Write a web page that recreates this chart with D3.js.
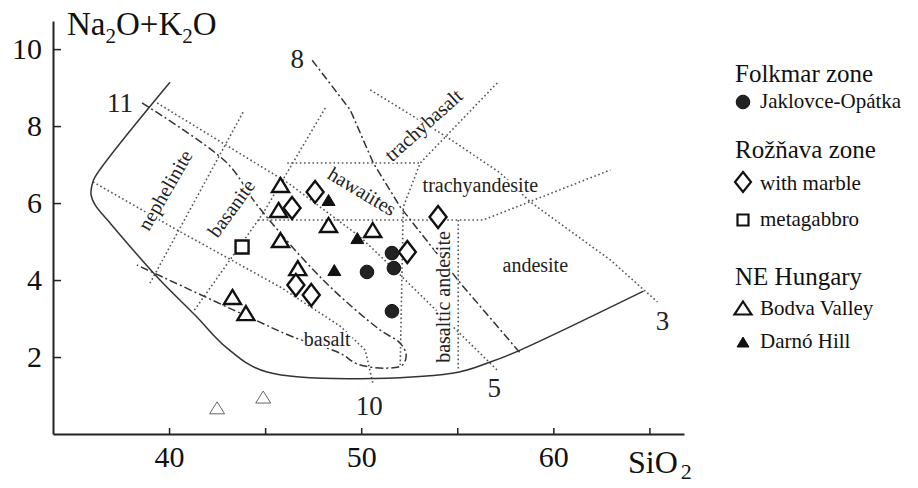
<!DOCTYPE html>
<html>
<head>
<meta charset="utf-8">
<script src="https://cdn.jsdelivr.net/npm/d3@7"></script>
<style>
  body { margin: 0; background: #fff; }
  svg { font-family: "Liberation Serif", "Times New Roman", serif; }
</style>
</head>
<body>
<svg id="tas" width="918" height="488"></svg>
<script>
// samples, each point is [SiO2, Na2O+K2O]
const jaklovce = [[51.6, 4.70], [51.7, 4.31], [50.3, 4.21], [51.6, 3.19]];
const withMarble = [[47.6, 6.29], [46.4, 5.87], [52.4, 4.73], [54.0, 5.64], [46.6, 3.87], [47.4, 3.61]];
const metagabbro = [[43.8, 4.86]];
const bodva = [[45.8, 6.47], [45.7, 5.82], [45.8, 5.04], [46.7, 4.31], [43.3, 3.56], [44.0, 3.14], [48.3, 5.43], [50.6, 5.30]];
const bodvaLow = [[42.5, 0.68], [44.9, 0.96]]; // two faint ones below the field
const darno = [[48.3, 6.08], [49.8, 5.09], [48.6, 4.26]];

// field outline (solid)
const outline = [[40.05, 9.14], [36.15, 6.68], [35.99, 6.47], [35.94, 6.21], [36.15, 5.95], [36.93, 5.48],
  [39.38, 4.08], [41.35, 3.09], [43.02, 2.23], [45.10, 1.61], [54.74, 1.58], [56.72, 1.87], [58.28, 2.18], [64.69, 3.71]];

// dash-dot lines
const line11 = [[38.59, 8.60], [43.02, 7.04], [44.58, 5.95], [48.02, 4.00], [50.99, 2.70], [52.03, 2.36],
  [52.34, 2.05], [52.14, 1.79], [51.25, 1.71], [49.79, 1.82], [48.9, 2.10], [46.46, 2.52], [44.06, 3.06], [38.33, 4.39]];
const line8 = [[47.45, 9.71], [49.43, 8.42], [50.63, 7.04], [52.03, 5.90], [55.16, 3.92], [58.28, 2.10]];

// dotted lines
const line3 = [[50.47, 8.94], [54.48, 7.71], [57.24, 6.78], [58.80, 6.03], [62.97, 4.52], [65.42, 3.43]];
const line5 = [[39.38, 8.60], [46.20, 6.52], [49.95, 5.12], [52.03, 4.13], [57.08, 1.66]];
const line10 = [[36.04, 6.55], [40.42, 5.30], [45.78, 3.82], [48.91, 2.80], [50.21, 2.18], [50.63, 1.27]];
const gridB1 = [[43.85, 8.36], [39.01, 3.92]];
const gridB2 = [[48.13, 8.47], [44.90, 5.74], [41.25, 3.17]];
const gridB3 = [[57.08, 9.12], [53.07, 7.04], [52.19, 5.90], [52.03, 1.79]];
const gridH1 = [[46.15, 7.04], [53.07, 7.04]];
const gridH2 = [[44.64, 5.56], [56.35, 5.56], [62.97, 6.86]];
const gridV = [[55.05, 5.56], [55.05, 1.66]];

// tick values
const xTicks = [40, 45, 50, 55, 60, 65];
const xLabels = [40, 50, 60];
const yTicks = [2, 4, 6, 8, 10];

// field names: text, SiO2, alkali, rotation
const fieldNames = [
  ["nephelinite", 39.79, 6.34, -60],
  ["basanite", 43.23, 5.87, -54],
  ["hawaiites", 50.05, 6.31, 31],
  ["trachybasalt", 53.23, 8.03, -42],
  ["trachyandesite", 56.20, 6.47, 0],
  ["basaltic andesite", 54.27, 3.56, -90],
  ["andesite", 59.06, 4.38, 0],
  ["basalt", 48.23, 2.46, 0]
];
// numbers at the line ends (baseline position)
const lineNames = [["11", 38.13, 8.37], ["8", 46.67, 9.51], ["10", 50.42, 0.49], ["5", 56.93, 0.96], ["3", 65.68, 2.70]];

const svg = d3.select("#tas");

const x = d3.scaleLinear().domain([33.96, 66.8]).range([53, 684]);
const y = d3.scaleLinear().domain([0, 10.73]).range([434, 21]);

const line = d3.line().x(d => x(d[0])).y(d => y(d[1]));
const smooth = d3.line().x(d => x(d[0])).y(d => y(d[1])).curve(d3.curveCatmullRom.alpha(0.5));

// dotted boundaries
[line3, line5, line10, gridB1, gridB2, gridB3, gridH1, gridH2, gridV].forEach(function(pts) {
  svg.append("path").attr("d", line(pts))
    .attr("fill", "none").attr("stroke", "#555").attr("stroke-width", 1.6)
    .attr("stroke-dasharray", "1.6 2.6");
});

// dash-dot lines
svg.append("path").attr("d", smooth(line11))
  .attr("fill", "none").attr("stroke", "#333").attr("stroke-width", 1.5)
  .attr("stroke-dasharray", "8 3 2 3");
svg.append("path").attr("d", line(line8))
  .attr("fill", "none").attr("stroke", "#333").attr("stroke-width", 1.5)
  .attr("stroke-dasharray", "8 3 2 3");

// outline
svg.append("path").attr("d", smooth(outline))
  .attr("fill", "none").attr("stroke", "#333").attr("stroke-width", 1.5);

// field names
svg.selectAll(".field").data(fieldNames).enter().append("text")
  .attr("class", "field")
  .attr("transform", d => `translate(${x(d[1])},${y(d[2])}) rotate(${d[3]})`)
  .attr("text-anchor", "middle")
  .attr("dominant-baseline", "central")
  .attr("font-size", 20)
  .attr("fill", "#222")
  .attr("stroke", "#fff").attr("stroke-width", 4).attr("paint-order", "stroke")
  .text(d => d[0]);

svg.selectAll(".lname").data(lineNames).enter().append("text")
  .attr("x", d => x(d[1])).attr("y", d => y(d[2]))
  .attr("text-anchor", d => d[0] == "11" ? "end" : "middle")
  .attr("font-size", 27)
  .attr("fill", "#222")
  .text(d => d[0]);

// axes
const xAxis = svg.append("g")
  .attr("transform", "translate(0,434)")
  .call(d3.axisBottom(x).tickValues(xTicks).tickSizeInner(-6).tickSizeOuter(0).tickPadding(12)
    .tickFormat(d => xLabels.includes(d) ? d : ""));
const yAxis = svg.append("g")
  .attr("transform", "translate(53,0)")
  .call(d3.axisLeft(y).tickValues(yTicks).tickSizeInner(-8).tickSizeOuter(0).tickPadding(11));
[xAxis, yAxis].forEach(function(g) {
  g.select(".domain").attr("stroke", "#222").attr("stroke-width", 2);
  g.selectAll(".tick line").attr("stroke", "#222").attr("stroke-width", 1.5);
  g.selectAll("text").attr("font-family", "Liberation Serif, serif").attr("font-size", 30).attr("fill", "#111");
});

// axis titles
const ty = svg.append("text").attr("x", 67).attr("y", 35).attr("font-size", 33).attr("fill", "#111");
ty.append("tspan").text("Na");
ty.append("tspan").attr("font-size", 21).attr("dy", 8).text("2");
ty.append("tspan").attr("dy", -8).text("O+K");
ty.append("tspan").attr("font-size", 21).attr("dy", 8).text("2");
ty.append("tspan").attr("dy", -8).text("O");

const tx = svg.append("text").attr("x", 628).attr("y", 473).attr("font-size", 32).attr("fill", "#111");
tx.append("tspan").text("SiO");
tx.append("tspan").attr("font-size", 22).attr("dx", 3).attr("dy", 6).text("2");

// symbol paths, centred on 0,0
function tri(w, h) { return `M0,${-h / 2}L${w / 2},${h / 2}L${-w / 2},${h / 2}Z`; }
function diamond(w, h) { return `M0,${-h / 2}L${w / 2},0L0,${h / 2}L${-w / 2},0Z`; }
function square(s) { return `M${-s / 2},${-s / 2}h${s}v${s}h${-s}Z`; }
function circle(r) { return `M${r},0A${r},${r} 0 1,1 ${-r},0A${r},${r} 0 1,1 ${r},0Z`; }

function plot(data, shape, fill, stroke, sw) {
  svg.append("g").selectAll("path").data(data).enter().append("path")
    .attr("transform", d => `translate(${x(d[0])},${y(d[1])})`)
    .attr("d", shape)
    .attr("fill", fill).attr("stroke", stroke).attr("stroke-width", sw)
    .attr("stroke-linejoin", "miter");
}

plot(bodvaLow, tri(15, 12), "none", "#666", 1);
plot(bodva, tri(17, 14), "#fff", "#111", 2.4);
plot(withMarble, diamond(17, 22), "#fff", "#111", 2.4);
plot(metagabbro, square(13), "#fff", "#111", 2.4);
plot(darno, tri(13, 11), "#111", "#111", 1);
plot(jaklovce, circle(6.8), "#222", "#111", 1);

// legend
const legend = svg.append("g");
function head(t, yy) {
  legend.append("text").attr("x", 735).attr("y", yy).attr("font-size", 25).attr("fill", "#111").text(t);
}
function item(t, yy, shape, fill, sw, cy) {
  legend.append("path").attr("transform", `translate(743,${cy})`).attr("d", shape)
    .attr("fill", fill).attr("stroke", "#111").attr("stroke-width", sw);
  legend.append("text").attr("x", 760).attr("y", yy).attr("font-size", 21).attr("fill", "#111").text(t);
}
head("Folkmar zone", 82);
item("Jaklovce-Opátka", 108, circle(6.8), "#222", 1, 102);
head("Rožňava zone", 158);
item("with marble", 190, diamond(16, 20), "#fff", 2.2, 182);
item("metagabbro", 226, square(11), "#fff", 2.2, 220);
head("NE Hungary", 285);
item("Bodva Valley", 315, tri(17, 13), "#fff", 2.2, 308);
item("Darnó Hill", 348, tri(12, 10), "#111", 1, 342);
</script>
</body>
</html>
